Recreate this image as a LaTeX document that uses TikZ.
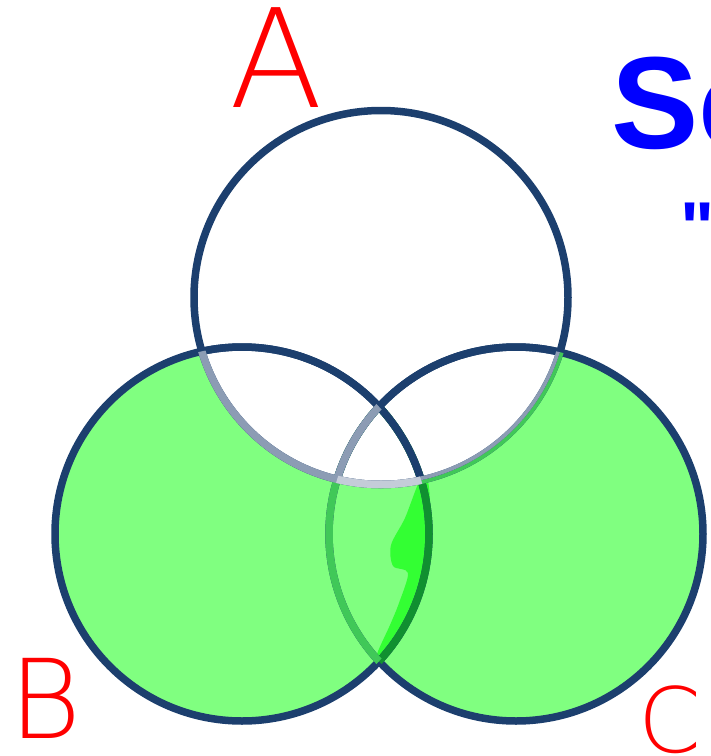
\documentclass[tikz,border=0pt]{standalone}
\usepackage{fontspec}
\setmainfont{Liberation Sans}
\newfontfamily\titlefont{Liberation Sans}[Ligatures=TeXOff]
\newfontfamily\handfont{DejaVu Sans ExtraLight}
\usepackage{xcolor}
\usetikzlibrary{calc,positioning}

\definecolor{ringblue}{HTML}{1C3F6E}
\definecolor{setgreen}{HTML}{80FF80}
\definecolor{deepgreen}{HTML}{109030}
\definecolor{midgreen}{HTML}{40C858}
\definecolor{brightgreen}{HTML}{33FF33}
\definecolor{fadeblue}{HTML}{8C9CB4}
\definecolor{paleblue}{HTML}{C4CCD8}

\tikzset{
  ring/.style={draw=ringblue,line width=7.5pt},
  handlabel/.style={text=red,inner sep=0pt},
  titletext/.style={text=blue,inner sep=0pt,font=\titlefont\bfseries\fontsize{131}{131}\selectfont}
}

\begin{document}
\begin{tikzpicture}[x=1pt,y=-1pt]
    \useasboundingbox (0,0) rectangle (711,756);
    \coordinate (cA) at (381,297.5);
    \coordinate (cB) at (242,534);
    \coordinate (cC) at (516,534);
    % shaded part
    \fill[setgreen] (cB) circle[radius=187pt] (cC) circle[radius=187pt];
    \fill[white] (cA) circle[radius=187pt];
    \fill[brightgreen] plot[smooth cycle] coordinates {
      (420,480) (405,518) (391,545) (393,566) (408,573)
      (399,603) (390,625) (377,655) (394,641) (412,604)
      (425,562) (430,512) (428,482)};
    % rings
    \draw[ring] (cA) circle[radius=187pt];
    \draw[ring] (cB) circle[radius=187pt];
    \draw[ring] (cC) circle[radius=187pt];
    \begin{scope}
      \clip (cC) circle[radius=187pt];
      \draw[ring,draw=deepgreen] (cB) circle[radius=187pt];
    \end{scope}
    \begin{scope}
      \clip (cB) circle[radius=187pt];
      \draw[ring,draw=midgreen] (cC) circle[radius=187pt];
    \end{scope}
    \begin{scope}
      \clip (cA) circle[radius=187pt];
      \draw[ring] (cB) circle[radius=187pt];
      \draw[ring] (cC) circle[radius=187pt];
      \clip (cB) circle[radius=187pt];
      \draw[ring,draw=fadeblue] (cC) circle[radius=187pt];
    \end{scope}
    \begin{scope}
      \clip (cC) circle[radius=187pt];
      \draw[draw=midgreen,line width=3.75pt] (cA) circle[radius=188.9pt];
      \draw[draw=fadeblue,line width=3.75pt] (cA) circle[radius=185.1pt];
    \end{scope}
    \begin{scope}
      \clip (cB) circle[radius=187pt];
      \draw[ring,draw=fadeblue] (cA) circle[radius=187pt];
      \clip (cC) circle[radius=187pt];
      \draw[ring,draw=paleblue] (cA) circle[radius=187pt];
    \end{scope}
    % labels
    \node[handlabel,font=\handfont\fontsize{137}{137}\selectfont] (labA) at (276,58) {A};
    \node[handlabel,font=\handfont\fontsize{110}{110}\selectfont] (labB) at (46,698) {B};
    \node[handlabel,font=\handfont\fontsize{90}{90}\selectfont] (labC) at (670,720) {C};
    \node[titletext,anchor=base west] (title) at (611,148) {Sc};
    \node[titletext,anchor=base west,font=\titlefont\bfseries\fontsize{72}{72}\selectfont] (quote) at (680,252) {"};
  \end{tikzpicture}
\end{document}
